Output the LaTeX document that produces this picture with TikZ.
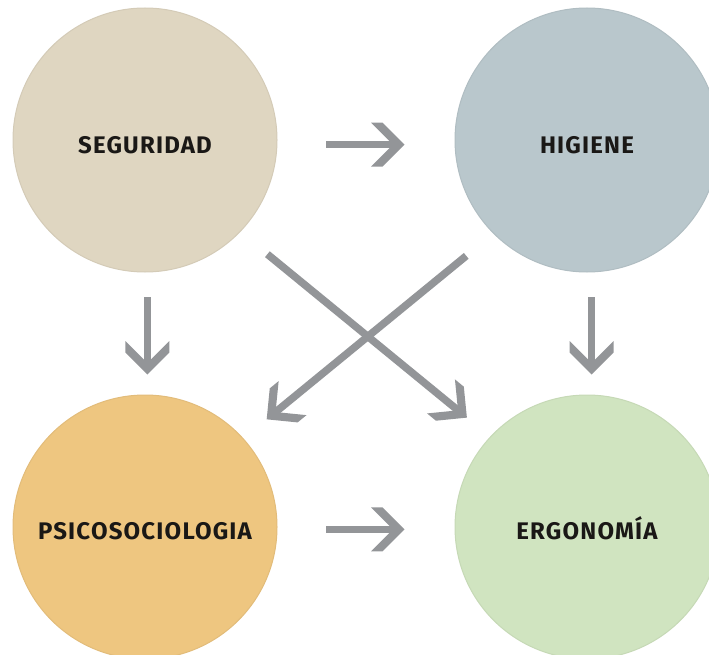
\documentclass[tikz,border=0pt]{standalone}
\usepackage{fontspec}
\setmainfont{Fira Sans}[LetterSpace=5]
\definecolor{segc}{RGB}{223,214,193}
\definecolor{higc}{RGB}{185,199,204}
\definecolor{psic}{RGB}{238,198,128}
\definecolor{ergc}{RGB}{208,228,192}
\definecolor{arrowgray}{RGB}{147,149,152}
\definecolor{labelc}{RGB}{26,24,22}
\pgfdeclarearrow{
  name = Chev,
  parameters = {},
  setup code = {
    \pgfarrowssettipend{0pt}
    \pgfarrowssetlineend{-11pt}
    \pgfarrowssetvisualbackend{-12pt}
    \pgfarrowssetbackend{-34pt}
    \pgfarrowshullpoint{0pt}{0pt}
    \pgfarrowsupperhullpoint{-34pt}{22pt}
  },
  drawing code = {
    \pgfpathmoveto{\pgfqpoint{0pt}{0pt}}
    \pgfpathlineto{\pgfqpoint{-22pt}{22pt}}
    \pgfpathlineto{\pgfqpoint{-33.5pt}{22pt}}
    \pgfpathlineto{\pgfqpoint{-11.5pt}{0pt}}
    \pgfpathlineto{\pgfqpoint{-33.5pt}{-22pt}}
    \pgfpathlineto{\pgfqpoint{-22pt}{-22pt}}
    \pgfpathclose
    \pgfusepathqfill
  },
  defaults = {}
}
\tikzset{
  bubble/.style={circle, minimum size=264pt, inner sep=0pt, line width=1pt,
    font=\fontsize{24}{28}\selectfont\bfseries, text=labelc,
    text height=27pt, text depth=0pt},
  link/.style={draw=arrowgray, fill=arrowgray, line width=7.5pt, -Chev}
}
\begin{document}
\begin{tikzpicture}[x=1pt,y=-1pt]
\useasboundingbox (0,0) rectangle (709,655);
\clip (0,0) rectangle (709,655);
\node[bubble, fill=segc, draw=segc!95!black] (seg) at (145,140) {SEGURIDAD};
\node[bubble, fill=higc, draw=higc!95!black] (hig) at (587,140) {HIGIENE};
\node[bubble, fill=psic, draw=psic!95!black, text height=24pt] (psi) at (145,527) {PSICOSOCIOLOGIA};
\node[bubble, fill=ergc, draw=ergc!95!black, text height=24pt] (erg) at (587,527) {ERGONOMÍA};
% horizontal
\draw[link, shorten <=49pt, shorten >=50pt] (seg.-2.2) -- (hig.182.2);
\draw[link, shorten <=49pt, shorten >=50pt] (psi.-1.3) -- (erg.181.3);
% vertical
\draw[link, shorten <=25pt, shorten >=20pt] (seg.-89) -- (psi.89);
\draw[link, shorten <=25pt, shorten >=20pt] (hig.-88.7) -- (erg.88.7);
% diagonals
\draw[link, shorten <=35pt, shorten >=30pt] (seg.-44.5) -- (erg.137.25);
\draw[link, shorten <=35pt, shorten >=30pt] (hig.-135.5) -- (psi.42.75);
\end{tikzpicture}
\end{document}
